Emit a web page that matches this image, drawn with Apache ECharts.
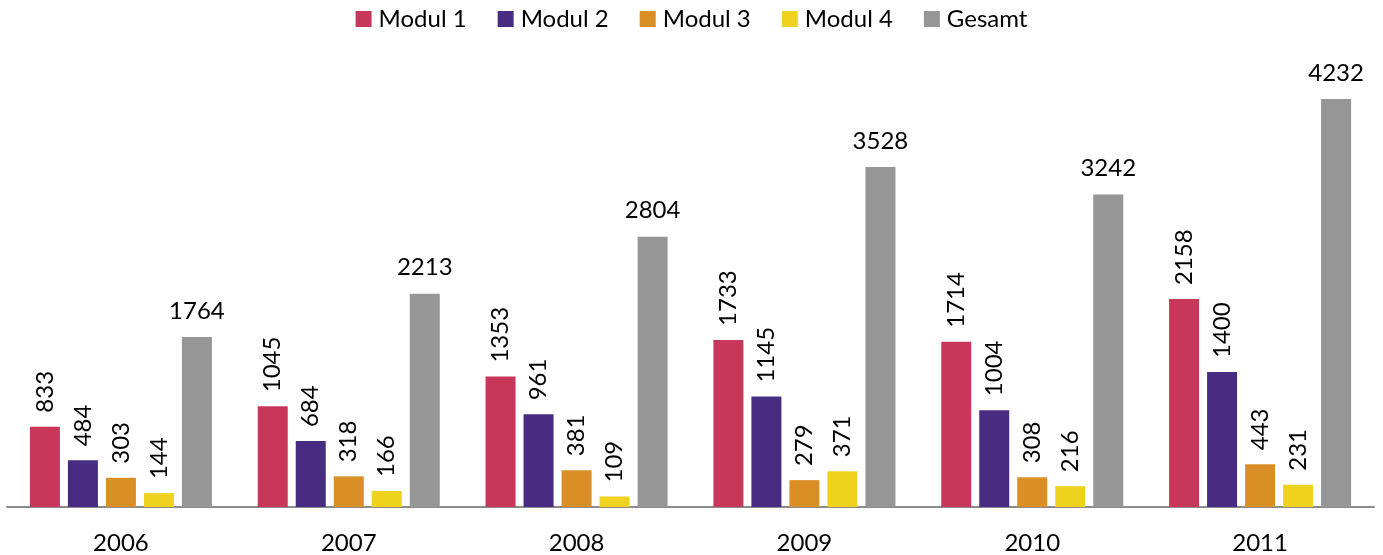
<!DOCTYPE html>
<html lang="de">
<head>
    <meta charset="UTF-8">
    <title>Module</title>
    <script src="https://cdn.jsdelivr.net/npm/echarts@6/dist/echarts.min.js"></script>
    <style>
        html, body { margin: 0; padding: 0; background: #fff; }
        #main { width: 1383px; height: 555px; }
    </style>
</head>
<body>
<div id="main"></div>
<script type="text/javascript">
    const years = ['2006', '2007', '2008', '2009', '2010', '2011']
    const modul1 = [833, 1045, 1353, 1733, 1714, 2158]
    const modul2 = [484, 684, 961, 1145, 1004, 1400]
    const modul3 = [303, 318, 381, 279, 308, 443]
    const modul4 = [144, 166, 109, 371, 216, 231]
    const gesamt = [1764, 2213, 2804, 3528, 3242, 4232]

    const font = 'Lato, "Open Sans", sans-serif'

    let chart = echarts.init(document.getElementById('main'))

    function modulSeries(name, data, color) {
        return {
            name: name,
            type: 'bar',
            data: data,
            barWidth: 30,
            barGap: '26.7%',
            itemStyle: { color: color },
            label: {
                show: true,
                position: 'top',
                rotate: 90,
                align: 'left',
                verticalAlign: 'middle',
                distance: 14,
                color: '#000',
                fontSize: 24,
                fontFamily: font
            }
        }
    }

    chart.setOption({
        animation: false,
        legend: {
            top: 2,
            left: 'center',
            itemWidth: 16,
            itemHeight: 16,
            itemGap: 31,
            icon: 'rect',
            textStyle: { fontSize: 24, fontFamily: font, color: '#000', padding: [0, 0, 0, 2] }
        },
        grid: { left: 7, right: 9, top: 25, bottom: 48 },
        xAxis: {
            type: 'category',
            data: years,
            axisLine: { lineStyle: { color: '#8c8c8c', width: 2 } },
            axisTick: { show: false },
            axisLabel: { fontSize: 24, fontFamily: font, color: '#000', margin: 24 }
        },
        yAxis: {
            type: 'value',
            min: 0,
            max: 5000,
            show: false,
            splitLine: { show: false }
        },
        series: [
            modulSeries('Modul 1', modul1, '#c8375a'),
            modulSeries('Modul 2', modul2, '#472c82'),
            modulSeries('Modul 3', modul3, '#da8f26'),
            modulSeries('Modul 4', modul4, '#efd21e'),
            {
                name: 'Gesamt',
                type: 'bar',
                data: gesamt,
                barWidth: 30,
                barGap: '26.7%',
                itemStyle: { color: '#969696' },
                label: {
                    show: true,
                    position: 'top',
                    distance: 14,
                    color: '#000',
                    fontSize: 24,
                    fontFamily: font
                }
            }
        ]
    })
</script>
</body>
</html>
